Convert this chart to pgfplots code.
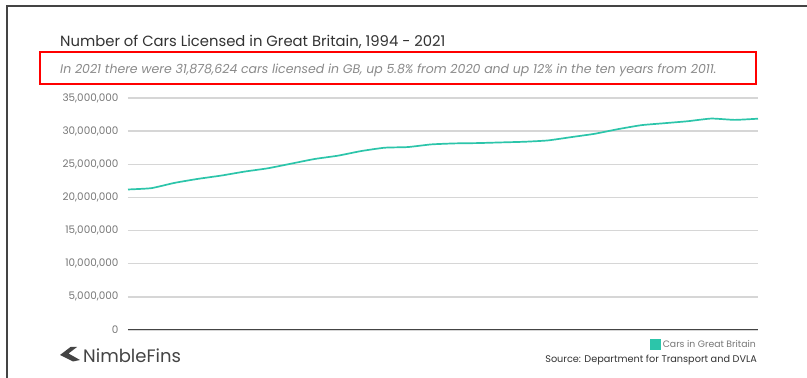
\documentclass[border=0pt]{standalone}
\usepackage{pgfplots}
\pgfplotsset{compat=1.18}
\usepackage{fontspec}
\setmainfont{Poppins}
\definecolor{teal1}{HTML}{2CC5AA}
\definecolor{gridc}{HTML}{D6D6D6}
\definecolor{titlec}{HTML}{333333}
\definecolor{subc}{HTML}{8A8A8A}
\definecolor{tickc}{HTML}{777777}
\definecolor{framec}{HTML}{444444}
\begin{document}
\begin{tikzpicture}[x=1pt,y=1pt]
\path[use as bounding box] (0,0) rectangle (807,378);
\fill[white] (0,0) rectangle (807,378);
% frame
\draw[framec, line width=1.6pt] (7,0) -- (7,372) -- (807,372);
% title
\node[anchor=base west, inner sep=0, text=titlec, font=\fontsize{14.8}{16}\selectfont] at (60,331) {Number of Cars Licensed in Great Britain, 1994 - 2021};
% red box
\draw[red, line width=1.3pt] (40,294) rectangle (756,326);
\node[anchor=base west, inner sep=0, text=subc, font=\fontsize{12.5}{14}\selectfont\itshape] at (60,304) {In 2021 there were 31,878,624 cars licensed in GB, up 5.8\% from 2020 and up 12\% in the ten years from 2011.};
\begin{axis}[
  at={(128pt,48pt)}, anchor=south west,
  scale only axis, width=630pt, height=232pt,
  xmin=1994, xmax=2021, ymin=0, ymax=35000000,
  axis y line*=left, y axis line style={draw=none},
  axis x line*=bottom,
  x axis line style={draw=framec, line width=1pt, -},
  xtick=\empty,
  ytick={0,5000000,10000000,15000000,20000000,25000000,30000000,35000000},
  ymajorgrids, major grid style={gridc, line width=1.3pt},
  major tick length=0pt,
  scaled y ticks=false,
  yticklabel style={text=tickc, font=\fontsize{10.4}{11}\selectfont, xshift=-6pt},
  /pgf/number format/.cd, fixed, 1000 sep={,}, assume math mode=true,
  /pgfplots/.cd,
  legend style={at={(1,0)}, anchor=north east, draw=none, fill=none, inner sep=0pt, yshift=-8pt, font=\fontsize{9.3}{10}\selectfont, text=tickc},
  legend image code/.code={\fill[teal1] (0pt,-4.5pt) rectangle (9pt,4.5pt);},
]
\addplot[draw=teal1, line width=1.7pt, smooth, tension=0.3] coordinates {
(1994,21200000) (1995,21400000) (1996,22200000) (1997,22800000) (1998,23300000)
(1999,23900000) (2000,24400000) (2001,25100000) (2002,25800000) (2003,26300000)
(2004,27000000) (2005,27500000) (2006,27600000) (2007,28000000) (2008,28150000)
(2009,28200000) (2010,28300000) (2011,28400000) (2012,28600000) (2013,29100000)
(2014,29600000) (2015,30300000) (2016,30900000) (2017,31200000) (2018,31500000)
(2019,31900000) (2020,31700000) (2021,31878624)
};
\addlegendentry{Cars in Great Britain}
\end{axis}
% source
\node[anchor=base east, inner sep=0, text=titlec, font=\fontsize{9.7}{10}\selectfont] at (757,16) {Source: Department for Transport and DVLA};
% logo
\fill[framec] (60,23) -- (70.5,31) -- (77,31) -- (68.5,24.5) -- (80,18) -- (73,16.5) -- cycle;
\node[anchor=base west, inner sep=0, text=framec, font=\fontsize{18}{19}\selectfont] at (83,16) {NimbleFins};
\end{tikzpicture}
\end{document}
